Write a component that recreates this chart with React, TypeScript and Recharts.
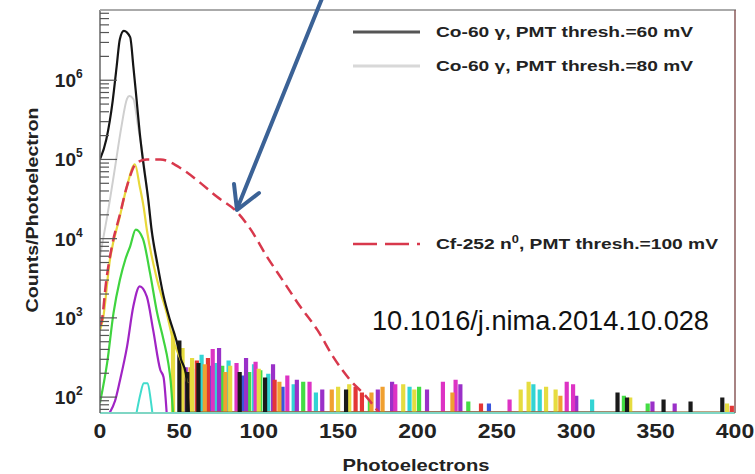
import { Line, LineChart, XAxis, YAxis } from "recharts";

// Co-60 gamma, 60 mV threshold
const co60_60mV: [number, number][] = [
  [0, 1e5], [4, 1.8e5], [8, 5.5e5], [10.5, 1.5e6], [12.5, 3.3e6], [15, 4.2e6],
  [19, 3.5e6], [21, 1.5e6], [23, 5.8e5], [25, 2.2e5], [27, 1e5], [30.5, 3e4],
  [32.5, 1.3e4], [36, 5e3], [40, 1.9e3], [44, 950], [48, 530], [51, 300], [54, 200], [56, 63],
];
// Co-60 gamma, 80 mV threshold
const co60_80mV: [number, number][] = [
  [0, 6e3], [2, 1e4], [4.5, 1.9e4], [9.5, 8e4], [13.5, 2.6e5], [17, 5.8e5], [18.5, 6.3e5],
  [21, 5.8e5], [24, 2.6e5], [27.3, 1e5], [30.5, 2.8e4], [32.5, 1.2e4], [36, 4.5e3],
];
const yellowCurve: [number, number][] = [
  [0, 700], [2, 1000], [6, 5e3], [12.5, 1.9e4], [17, 4.6e4], [22, 8.7e4], [25, 4.6e4],
  [27.5, 2.5e4], [29.5, 1.3e4], [36, 3e3], [42, 1150], [46, 530], [51.5, 270], [55, 150],
];
const greenCurve: [number, number][] = [
  [0, 85], [4.5, 270], [8.5, 1150], [12.5, 3e3], [16, 5.5e3], [19, 8e3], [22.5, 1.3e4],
  [27, 1e4], [31.5, 3.7e3], [36, 1150], [40, 530], [43, 270], [44.5, 160], [46, 63],
];
const purpleCurve: [number, number][] = [
  [6, 63], [9.5, 90], [12.5, 160], [17, 430], [21, 1400], [25, 2500], [29.5, 1850],
  [33.5, 700], [38, 220], [40, 180], [42, 63],
];
const cyanCurve: [number, number][] = [
  [23, 63], [25.5, 110], [27.5, 150], [30, 150], [32, 90], [33, 63],
];
// Cf-252 neutrons, 100 mV threshold
const cf252: [number, number][] = [
  [0, 800], [1, 900], [4, 3e3], [7.5, 8e3], [12.5, 2e4], [17, 4.6e4], [23, 9e4],
  [29.5, 1e5], [38, 1e5], [52, 7.5e4], [63, 5.1e4], [73.5, 3.4e4], [86, 2.2e4],
  [95, 1.3e4], [105, 6e3], [115, 3e3], [126, 1.4e3], [137, 700], [147, 320],
  [157.5, 165], [168, 100], [173, 75], [176, 63],
];

// low-count histogram spikes (bin centre, counts)
const spikesBlack: [number, number][] = [[50, 500], [55, 200], [62, 260], [88, 200], [104, 170], [155, 120], [326, 110], [332, 95], [355, 90], [372, 85], [392, 95]];
const spikesYellow: [number, number][] = [[46, 650], [52, 400], [58, 300], [82, 240], [100, 220], [150, 130], [157, 140], [191, 140], [198, 120], [265, 120], [270, 150], [281, 130], [287, 120], [334, 95], [395, 80]];
const spikesOrange: [number, number][] = [[57, 230], [66, 250], [79, 200], [113, 150], [146, 120], [171, 110], [178, 130], [222, 110], [290, 100]];
const spikesRed: [number, number][] = [[61, 280], [68, 300], [110, 160], [161, 130], [165, 110], [240, 80], [398, 75]];
const spikesMagenta: [number, number][] = [[71, 390], [86, 260], [98, 270], [118, 180], [132, 150], [186, 140], [216, 150], [224, 160], [258, 90], [294, 150], [298, 140]];
const spikesPurple: [number, number][] = [[54, 230], [75, 400], [92, 300], [109, 250], [124, 160], [140, 120], [175, 120], [184, 150], [206, 120], [227, 140], [300, 100], [348, 85], [362, 80]];
const spikesCyan: [number, number][] = [[64, 330], [73, 260], [81, 280], [97, 250], [106, 190], [122, 140], [136, 110], [195, 130], [273, 140], [277, 120], [310, 90]];
const spikesGreen: [number, number][] = [[58, 220], [77, 240], [94, 200], [101, 210], [128, 150], [170, 90], [201, 130], [232, 85], [330, 100], [345, 80]];
const spikesBlue: [number, number][] = [[69, 240], [90, 180], [115, 130], [245, 80]];

const X_TICKS = [0, 50, 100, 150, 200, 250, 300, 350, 400];
const Y_MIN = 63;
const Y_MAX = 7.7e6;
const DECADES = [10, 100, 1e3, 1e4, 1e5, 1e6];

const PLOT_LEFT = 100;
const FONT = "'Liberation Sans', Arial, sans-serif";

const yTicks: number[] = [];
for (const d of DECADES) {
  for (let k = 1; k <= 9; k++) {
    const v = k * d;
    if (v >= Y_MIN && v <= Y_MAX) yTicks.push(v);
  }
}

const toPoints = (arr: [number, number][]) => arr.map(([x, y]) => ({ x, y }));

const spikePoints = (arr: [number, number][]) => {
  const pts: { x: number; y: number }[] = [];
  for (const [x, h] of arr) {
    pts.push({ x: x - 0.5, y: Y_MIN }, { x: x - 0.5, y: h }, { x: x + 0.5, y: h }, { x: x + 0.5, y: Y_MIN });
  }
  return pts;
};

const noise = [
  { id: "blue", data: spikesBlue, color: "#3a55dd" },
  { id: "green", data: spikesGreen, color: "#44dd44" },
  { id: "cyan", data: spikesCyan, color: "#33d4d4" },
  { id: "purple", data: spikesPurple, color: "#9a30c8" },
  { id: "magenta", data: spikesMagenta, color: "#dd33c4" },
  { id: "red", data: spikesRed, color: "#e43636" },
  { id: "orange", data: spikesOrange, color: "#f0a030" },
  { id: "yellow", data: spikesYellow, color: "#e6dc40" },
  { id: "black", data: spikesBlack, color: "#1a1a1a" },
];

function YTick(props: any) {
  const { y, payload } = props;
  const lg = Math.log10(payload.value);
  const exp = Math.round(lg);
  const major = Math.abs(lg - exp) < 1e-6;
  return (
    <g>
      <line x1={PLOT_LEFT} x2={PLOT_LEFT + (major ? 17 : 9)} y1={y} y2={y} stroke="#555" strokeWidth={1.2} />
      {major && (
        <>
          <text x={76} y={y + 7} textAnchor="end" fontFamily={FONT} fontWeight="bold" fontSize={19} fill="#222">
            10
          </text>
          <text x={76} y={y - 2} fontFamily={FONT} fontWeight="bold" fontSize={12} fill="#222">
            {exp}
          </text>
        </>
      )}
    </g>
  );
}

function XTick(props: any) {
  const { x, payload } = props;
  const s = String(payload.value);
  return (
    <text
      x={x}
      y={438}
      textAnchor="middle"
      fontFamily={FONT}
      fontWeight="bold"
      fontSize={20}
      fill="#222"
      textLength={s.length * 12.8}
      lengthAdjust="spacingAndGlyphs"
    >
      {s}
    </text>
  );
}

export default function App() {
  return (
    <div style={{ position: "absolute", left: 0, top: 0, width: 755, height: 474, background: "#fff" }}>
      <LineChart width={755} height={474} margin={{ top: 10, right: 20, bottom: 21, left: 40 }}>
        <XAxis
          type="number"
          dataKey="x"
          domain={[0, 400]}
          ticks={X_TICKS}
          interval={0}
          height={40}
          tick={<XTick />}
          tickLine={false}
          axisLine={{ stroke: "#7fd6c4", strokeWidth: 2 }}
          allowDataOverflow
        />
        <YAxis
          type="number"
          dataKey="y"
          scale="log"
          domain={[Y_MIN, Y_MAX]}
          ticks={yTicks}
          interval={0}
          width={60}
          tick={<YTick />}
          tickLine={false}
          axisLine={{ stroke: "#666", strokeWidth: 1.5 }}
          allowDataOverflow
        />
        {noise.map((n) => (
          <Line
            key={n.id}
            data={spikePoints(n.data)}
            dataKey="y"
            type="linear"
            stroke={n.color}
            strokeWidth={2.6}
            dot={false}
            isAnimationActive={false}
          />
        ))}
        <Line data={toPoints(co60_80mV)} dataKey="y" type="monotone" stroke="#cfcfcf" strokeWidth={2} dot={false} isAnimationActive={false} />
        <Line data={toPoints(yellowCurve)} dataKey="y" type="monotone" stroke="#e8d83a" strokeWidth={2.2} dot={false} isAnimationActive={false} />
        <Line data={toPoints(greenCurve)} dataKey="y" type="monotone" stroke="#3fd43f" strokeWidth={2.2} dot={false} isAnimationActive={false} />
        <Line data={toPoints(purpleCurve)} dataKey="y" type="monotone" stroke="#a024c4" strokeWidth={2.2} dot={false} isAnimationActive={false} />
        <Line data={toPoints(cyanCurve)} dataKey="y" type="monotone" stroke="#40dccc" strokeWidth={2} dot={false} isAnimationActive={false} />
        <Line data={toPoints(co60_60mV)} dataKey="y" type="monotone" stroke="#151515" strokeWidth={2.2} dot={false} isAnimationActive={false} />
        <Line data={toPoints(cf252)} dataKey="y" type="monotone" stroke="#d8384c" strokeWidth={2.5} strokeDasharray="11 6" dot={false} isAnimationActive={false} />
      </LineChart>

      <svg width={755} height={474} style={{ position: "absolute", left: 0, top: 0, pointerEvents: "none" }}>
        <line x1={100} x2={736} y1={10} y2={10} stroke="#aaa" strokeWidth={2} />
        <line x1={735} x2={735} y1={10} y2={413} stroke="#8a5a5a" strokeWidth={1.5} />

        {/* legend */}
        <line x1={353} x2={420} y1={32} y2={32} stroke="#555" strokeWidth={3} />
        <text x={436} y={37} fontFamily={FONT} fontWeight="bold" fontSize={15} fill="#222" textLength={257} lengthAdjust="spacingAndGlyphs">
          Co-60 γ, PMT thresh.=60 mV
        </text>
        <line x1={353} x2={420} y1={66} y2={66} stroke="#d8d8d8" strokeWidth={3} />
        <text x={436} y={71} fontFamily={FONT} fontWeight="bold" fontSize={15} fill="#222" textLength={257} lengthAdjust="spacingAndGlyphs">
          Co-60 γ, PMT thresh.=80 mV
        </text>
        <line x1={353} x2={420} y1={244} y2={244} stroke="#d8384c" strokeWidth={2.5} strokeDasharray="24 8" />
        <text x={436} y={249} fontFamily={FONT} fontWeight="bold" fontSize={15} fill="#222" textLength={282} lengthAdjust="spacingAndGlyphs">
          Cf-252 n<tspan dy={-6} fontSize={10}>0</tspan><tspan dy={6}>, PMT thresh.=100 mV</tspan>
        </text>

        <text x={372} y={330} fontFamily={FONT} fontSize={27} fill="#111" textLength={337} lengthAdjust="spacingAndGlyphs">
          10.1016/j.nima.2014.10.028
        </text>

        {/* annotation arrow */}
        <line x1={323} y1={-4} x2={237} y2={209} stroke="#3b6296" strokeWidth={4} strokeLinecap="round" />
        <polyline points="234,184 237,210 259,193" fill="none" stroke="#3b6296" strokeWidth={4} strokeLinecap="round" strokeLinejoin="round" />

        {/* axis titles */}
        <text x={416} y={471} textAnchor="middle" fontFamily={FONT} fontWeight="bold" fontSize={17} fill="#222" textLength={147} lengthAdjust="spacingAndGlyphs">
          Photoelectrons
        </text>
        <text
          transform="translate(38,210) rotate(-90)"
          textAnchor="middle"
          fontFamily={FONT}
          fontWeight="bold"
          fontSize={17}
          fill="#222"
          textLength={205}
          lengthAdjust="spacingAndGlyphs"
        >
          Counts/Photoelectron
        </text>
      </svg>
    </div>
  );
}
